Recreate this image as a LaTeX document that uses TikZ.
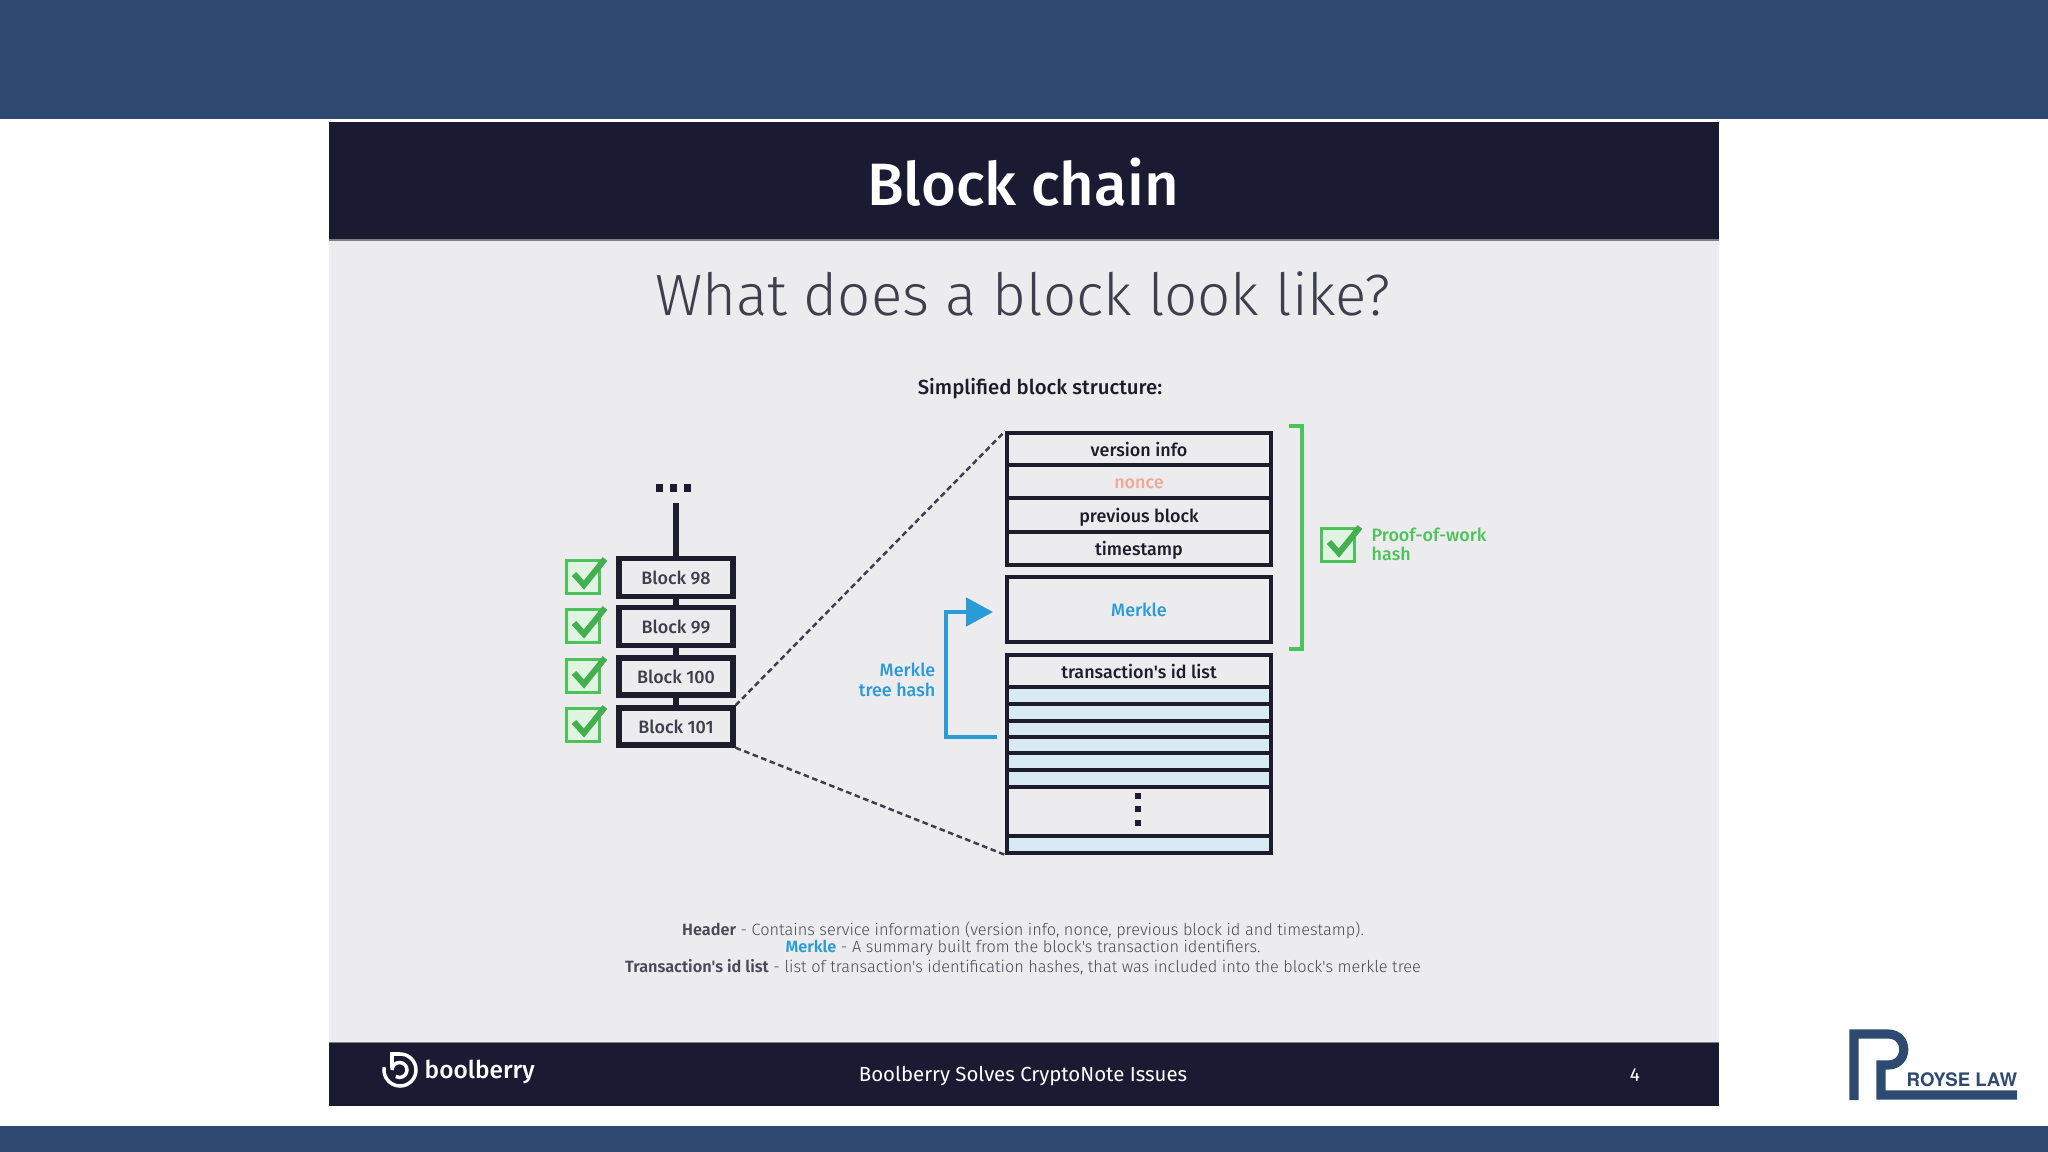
\documentclass[tikz,border=0pt]{standalone}
\usepackage{fontspec}
\setmainfont{Fira Sans}
\newfontfamily\lightfont{Fira Sans Light}
\newfontfamily\mediumfont{Fira Sans Medium}
\newfontfamily\logofont{TeX Gyre Heros}
\usetikzlibrary{arrows.meta}
\definecolor{bandblue}{HTML}{2F4A70}
\definecolor{slidedark}{HTML}{1A1A33}
\definecolor{slidegray}{HTML}{ECECEE}
\definecolor{inkdark}{HTML}{1C1C2C}
\definecolor{merkleblue}{HTML}{2A9BD6}
\definecolor{checkgreen}{HTML}{4CC35A}
\definecolor{stripeblue}{HTML}{D8EAF4}
\definecolor{noncered}{HTML}{F0A898}
\tikzset{
  blockbox/.style={draw=inkdark, line width=1.5pt, fill=slidegray, minimum width=1.14cm, minimum height=0.34cm, text=inkdark!85, font=\fontsize{5.1}{6}\mediumfont},
  rowbox/.style={draw=inkdark, line width=1.05pt, fill=slidegray, minimum width=2.64cm, text=inkdark, font=\fontsize{5.1}{6}\mediumfont, inner sep=0pt, text height=0.17cm, text depth=0.03cm},
  stripebox/.style={rowbox, fill=stripeblue, text height=0cm, text depth=0cm},
  link/.style={draw=inkdark, line width=1.5pt},
  zoomline/.style={inkdark!85, line width=0.7pt, dash pattern=on 1.6pt off 1pt},
  checkbox/.style={draw=checkgreen, line width=1pt, fill=checkgreen!18, minimum size=0.33cm, inner sep=0pt},
  tick/.pic={\draw[checkgreen!90!black, line width=1.7pt] (-9,-3) -- (1,8) -- (22,-18);},
  note/.style={font=\fontsize{4.64}{6}\lightfont, text=inkdark!80},
}
\newcommand{\notehead}{\fontsize{4.64}{6}\selectfont\bfseries}
\begin{document}
\begin{tikzpicture}[x=0.01cm, y=-0.01cm, >={Triangle[length=0.27cm, width=0.28cm]}]
  \useasboundingbox (0,0) rectangle (2048,1152);
  % Bands of the page
  \fill[white] (0,0) rectangle (2048,1152);
  \fill[bandblue] (0,0) rectangle (2048,119);
  \fill[bandblue] (0,1126) rectangle (2048,1152);
  % Slide
  \fill[slidegray] (329,122) rectangle (1719,1106);
  \fill[slidedark] (329,122) rectangle (1719,239);
  \fill[slidedark] (329,1043) rectangle (1719,1106);
  \draw[gray, line width=0.4pt] (329,240) -- (1719,240);
  \draw[gray, line width=0.4pt] (329,1042.5) -- (1719,1042.5);
  % Titles
  \node[white, font=\fontsize{17}{20}\mediumfont] (title) at (1023,182) {Block chain};
  \node[inkdark!85, font=\fontsize{16.55}{20}\lightfont] (subtitle) at (1023,294) {What does a block look like?};
  \node[inkdark, font=\fontsize{5.8}{7}\mediumfont] (simplified) at (1040,389) {Simplified block structure:};
  % Chain of blocks
  \node[blockbox] (block98) at (676,577.5) {Block 98};
  \node[blockbox] (block99) at (676,626.5) {Block 99};
  \node[blockbox] (block100) at (676,676.5) {Block 100};
  \node[blockbox] (block101) at (676,726.5) {Block 101};
  \coordinate (chaintop) at (676,503);
  \draw[link] (chaintop) -- (block98);
  \draw[link] (block98) -- (block99);
  \draw[link] (block99) -- (block100);
  \draw[link] (block100) -- (block101);
  \node[fill=inkdark, minimum size=0.07cm, inner sep=0pt] (dota) at (659,488) {};
  \node[fill=inkdark, minimum size=0.07cm, inner sep=0pt] (dotb) at (673,488) {};
  \node[fill=inkdark, minimum size=0.07cm, inner sep=0pt] (dotc) at (687,488) {};
  % Checks next to the blocks
  \node[checkbox] (check98) at (583,577) {};
  \node[checkbox] (check99) at (583,626) {};
  \node[checkbox] (check100) at (583,676) {};
  \node[checkbox] (check101) at (583,725) {};
  \pic at (check98) {tick};
  \pic at (check99) {tick};
  \pic at (check100) {tick};
  \pic at (check101) {tick};
  % Header rows
  \node[rowbox, minimum height=0.32cm] (version) at (1139,449) {version info};
  \node[rowbox, minimum height=0.33cm, text=noncered] (nonce) at (1139,481.5) {nonce};
  \node[rowbox, minimum height=0.34cm] (previous) at (1139,515) {previous block};
  \node[rowbox, minimum height=0.33cm] (timestamp) at (1139,548.5) {timestamp};
  % Merkle
  \node[rowbox, minimum height=0.65cm, text=merkleblue] (merkle) at (1139,609.5) {Merkle};
  % Transaction list
  \node[rowbox, minimum height=0.32cm] (txlist) at (1139,671) {transaction's id list};
  \node[stripebox, minimum height=0.17cm] (stripea) at (1139,695.5) {};
  \node[stripebox, minimum height=0.17cm] (stripeb) at (1139,712.5) {};
  \node[stripebox, minimum height=0.16cm] (stripec) at (1139,729) {};
  \node[stripebox, minimum height=0.16cm] (stripee) at (1139,745) {};
  \node[stripebox, minimum height=0.17cm] (stripef) at (1139,761.5) {};
  \node[stripebox, minimum height=0.17cm] (stripeg) at (1139,778.5) {};
  \node[rowbox, minimum height=0.49cm] (gap) at (1139,811.5) {};
  \node[stripebox, minimum height=0.17cm] (stripelast) at (1139,844.5) {};
  \node[fill=inkdark, minimum size=0.06cm, inner sep=0pt] (vdota) at (1138,796) {};
  \node[fill=inkdark, minimum size=0.06cm, inner sep=0pt] (vdotb) at (1138,809) {};
  \node[fill=inkdark, minimum size=0.06cm, inner sep=0pt] (vdotc) at (1138,823) {};
  % Zoom lines
  \draw[zoomline] (block101.north east) -- (version.north west);
  \draw[zoomline] (block101.south east) -- (stripelast.south west);
  % Merkle tree hash arrow
  \coordinate (hashstart) at (997,737);
  \draw[->, merkleblue, line width=1.4pt] (hashstart) -- (946,737) |- ([xshift=-0.12cm, yshift=-0.025cm]merkle.west);
  \node[merkleblue, align=right, anchor=east, inner sep=0pt, font=\fontsize{5.1}{5.6}\mediumfont] (treehash) at (936,680) {Merkle\\tree hash};
  % Proof-of-work bracket
  \draw[checkgreen, line width=1.3pt] (1289,426) -- (1302,426) -- (1302,649) -- (1289,649);
  \node[checkbox] (checkpow) at (1338,545) {};
  \pic at (checkpow) {tick};
  \node[checkgreen, align=left, anchor=west, inner sep=0pt, font=\fontsize{5.1}{5.5}\mediumfont] (powhash) at (1371,544.5) {Proof-of-work\\hash};
  % Notes
  \node[note] (noteheader) at (1023,930) {{\notehead Header} - Contains service information (version info, nonce, previous block id and timestamp).};
  \node[note] (notemerkle) at (1023,948) {{\notehead\color{merkleblue} Merkle} - A summary built from the block's transaction identifiers.};
  \node[note] (notelist) at (1023,967) {{\notehead Transaction's id list} - list of transaction's identification hashes, that was included into the block's merkle tree};
  % Footer
  \draw[white, line width=1pt] (392,1068) -- (392,1054) -- (400,1054) arc (-90:190:16);
  \draw[white, line width=1pt] (392,1070) arc (180:480:7.5);
  \node[white, anchor=west, inner sep=0pt, font=\fontsize{6.95}{9}\mediumfont] (boolberry) at (424,1072) {boolberry};
  \node[white, font=\fontsize{5.8}{7}\selectfont] (footertext) at (1023,1076) {Boolberry Solves CryptoNote Issues};
  \node[white, font=\fontsize{5.4}{7}\selectfont] (pageno) at (1635,1075) {4};
  % Royse Law logo
  \draw[bandblue, line width=2.6pt] (1854,1100) -- (1854,1034) -- (1888,1034) .. controls (1909,1034) and (1909,1065) .. (1888,1065) -- (1881,1065) -- (1881,1095) -- (2017,1095);
  \node[bandblue, anchor=west, inner sep=0pt, font=\fontsize{5.3}{6}\logofont\bfseries] (royse) at (1906,1080) {ROYSE LAW};
\end{tikzpicture}
\end{document}
